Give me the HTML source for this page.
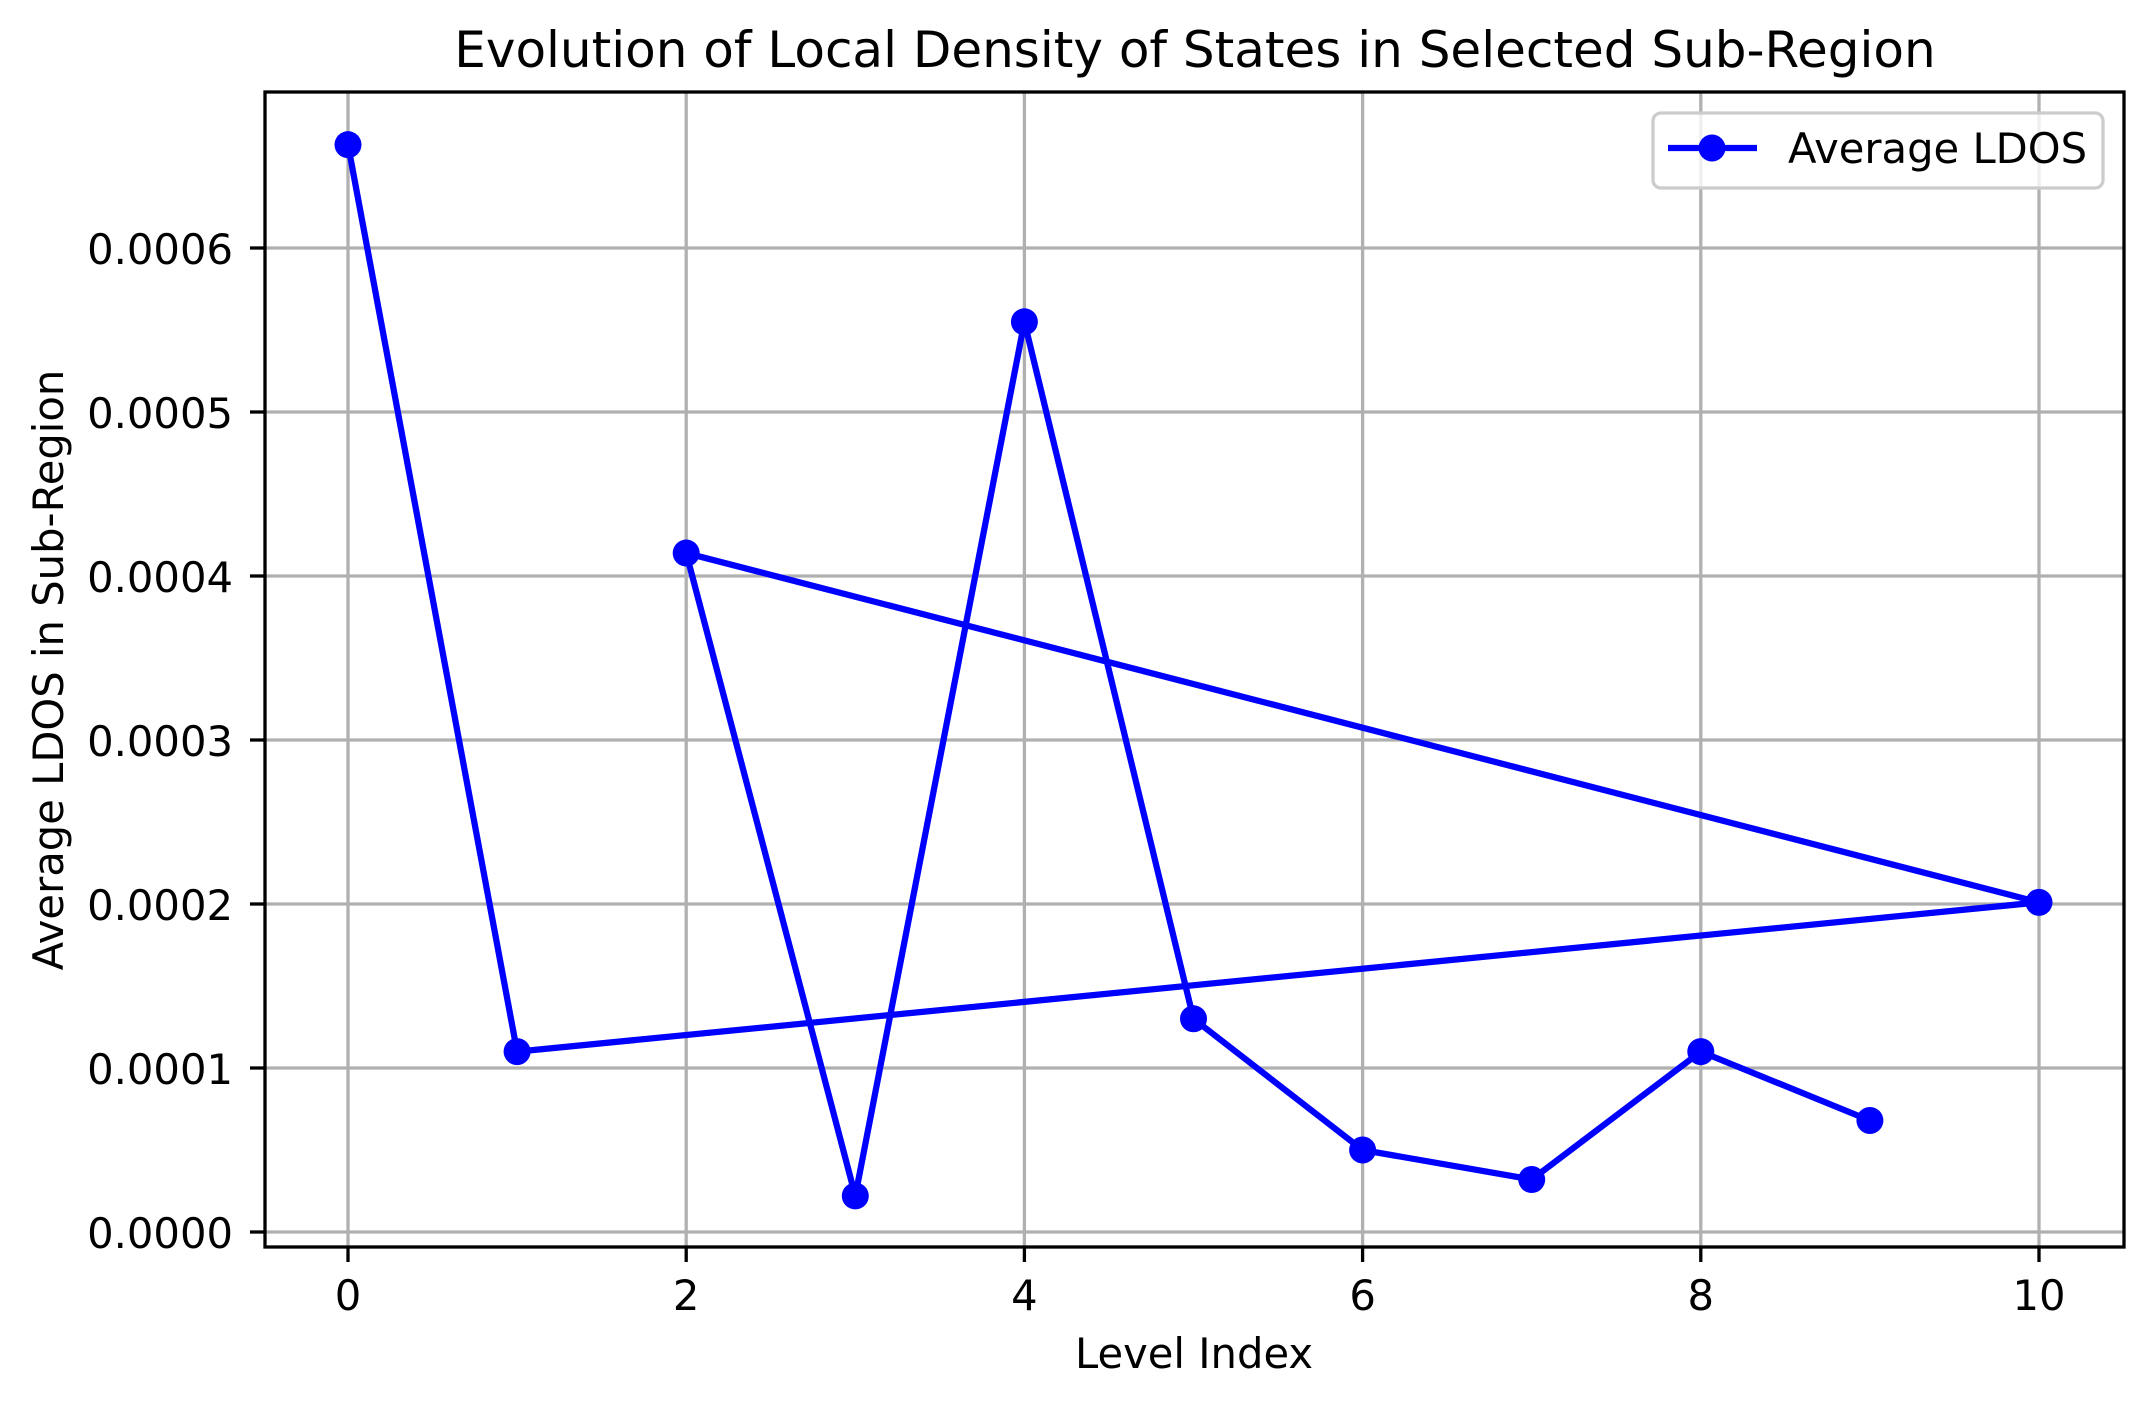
<!DOCTYPE html>
<html><head><meta charset="utf-8"><style>html,body{margin:0;padding:0;background:#fff}svg{display:block}text{font-family:"DejaVu Sans","Liberation Sans",sans-serif;fill:#000}</style></head>
<body>
<svg id="chart" width="2153" height="1407" viewBox="0 0 2153 1407">
<rect x="0" y="0" width="2153" height="1407" fill="#fff"/>
<g id="grid"></g>
<g id="series"></g>
<rect x="265" y="92" width="1859" height="1155" fill="none" stroke="#000" stroke-width="3.3"/>
<g id="ticks"></g>
<text x="1195" y="67" font-size="50" text-anchor="middle">Evolution of Local Density of States in Selected Sub-Region</text>
<text x="1194" y="1368" font-size="41.7" text-anchor="middle">Level Index</text>
<text x="0" y="0" font-size="41.7" text-anchor="middle" transform="translate(63,670) rotate(-90)">Average LDOS in Sub-Region</text>
<g>
<rect x="1653" y="113" width="450" height="75" rx="8" fill="#fff" fill-opacity="0.8" stroke="#cccccc" stroke-width="3.3"/>
<line x1="1668" y1="148" x2="1757" y2="148" stroke="#0000ff" stroke-width="6.25"/>
<circle cx="1712" cy="148" r="13.5" fill="#0000ff"/>
<text x="1788" y="163" font-size="41.7">Average LDOS</text>
</g>
</svg>
<script>
const xValues = [0, 1, 10, 2, 3, 4, 5, 6, 7, 8, 9];
const yValues = [0.000663, 0.000110, 0.000201, 0.000414, 0.000022, 0.000555, 0.000130, 0.000050, 0.000032, 0.000110, 0.000068];
const xTicks = [0, 2, 4, 6, 8, 10];
const yTicks = [0, 0.0001, 0.0002, 0.0003, 0.0004, 0.0005, 0.0006];
const yTickLabels = ["0.0000", "0.0001", "0.0002", "0.0003", "0.0004", "0.0005", "0.0006"];

const NS = "http://www.w3.org/2000/svg";
function sx(v){ return 348 + (v - 0) * (2039 - 348) / 10; }
function sy(v){ return 1232 - v * (1232 - 248) / 0.0006; }
function mk(tag, attrs, parent){ const e = document.createElementNS(NS, tag); for (const k in attrs) e.setAttribute(k, attrs[k]); parent.appendChild(e); return e; }
const grid = document.getElementById('grid'), ticks = document.getElementById('ticks'), series = document.getElementById('series');

xTicks.forEach(t => {
  const x = sx(t);
  const g = mk('line', {x1:x, y1:92, x2:x, y2:1247, stroke:'#b0b0b0', 'stroke-width':3.3}, grid);
  
  
  const tk = mk('line', {x1:x, y1:1247, x2:x, y2:1262, stroke:'#000', 'stroke-width':3.3}, ticks);
  
  
  const lb = mk('text', {x:x, y:1310, 'font-size':41.7, 'text-anchor':'middle'}, ticks);
  lb.textContent = String(t);
  
  
});
yTicks.forEach((t, i) => {
  const y = sy(t);
  const g = mk('line', {x1:265, y1:y, x2:2124, y2:y, stroke:'#b0b0b0', 'stroke-width':3.3}, grid);
  
  
  const tk = mk('line', {x1:250, y1:y, x2:265, y2:y, stroke:'#000', 'stroke-width':3.3}, ticks);
  
  
  const lb = mk('text', {x:233, y:y + 16, 'font-size':41.7, 'text-anchor':'end'}, ticks);
  lb.textContent = yTickLabels[i];
  
  
});
const pts = xValues.map((x, i) => sx(x) + ',' + sy(yValues[i])).join(' ');
const pl = mk('polyline', {points:pts, fill:'none', stroke:'#0000ff', 'stroke-width':6.25, 'stroke-linejoin':'round'}, series);


xValues.forEach((x, i) => {
  const c = mk('circle', {cx:sx(x), cy:sy(yValues[i]), r:13.5, fill:'#0000ff'}, series);
  
  
});
</script>
</body></html>
